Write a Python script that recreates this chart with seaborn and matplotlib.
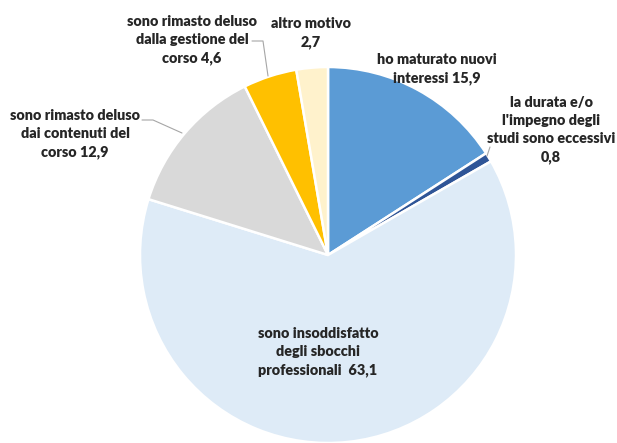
import matplotlib
matplotlib.use("Agg")
import matplotlib.pyplot as plt
import seaborn as sns

# Motivi di abbandono (%), in ordine orario a partire dalle ore 12
categories = [
    "ho maturato nuovi\ninteressi",
    "la durata e/o\nl'impegno degli\nstudi sono eccessivi",
    "sono insoddisfatto\ndegli sbocchi\nprofessionali",
    "sono rimasto deluso\ndai contenuti del\ncorso",
    "sono rimasto deluso\ndalla gestione del\ncorso",
    "altro motivo",
]
values = [15.9, 0.8, 63.1, 12.9, 4.6, 2.7]
colors = ["#5B9BD5", "#2F5597", "#DEEBF7", "#D9D9D9", "#FFC000", "#FFF2CC"]

# separatore tra testo e valore per ciascuna etichetta
separators = [" ", "\n", "  ", " ", " ", "\n"]

# centro delle etichette (pixel, y dall'alto) e tratti di richiamo
label_xy = [(437, 69), (551, 130), (318, 352), (75, 134), (192, 40), (311, 33)]
leaders = {
    1: [(490, 147), (487, 156)],
    3: [(142, 120), (153, 120), (182, 133)],
    4: [(252, 41), (263, 41), (268, 76)],
}

W, H = 617, 443
sns.set_theme(style="white")
plt.rcParams["font.family"] = ["Lato", "DejaVu Sans"]

fig = plt.figure(figsize=(W / 100, H / 100), dpi=100)
ax = fig.add_axes([0, 0, 1, 1])

center = (328, H - 255)
ax.pie(
    values,
    colors=colors,
    startangle=90,
    counterclock=False,
    center=center,
    radius=188,
    wedgeprops=dict(edgecolor="white", linewidth=1.8),
)
ax.set_xlim(0, W)
ax.set_ylim(0, H)
ax.set_aspect("equal")
ax.axis("off")

def fmt(v):
    return f"{v:.1f}".replace(".", ",")

for i, (name, val, sep) in enumerate(zip(categories, values, separators)):
    x, y = label_xy[i]
    ax.text(x, H - y, f"{name}{sep}{fmt(val)}", ha="center", va="center",
            fontsize=10.4, fontweight="heavy", color="#262626", linespacing=1.45)

for pts in leaders.values():
    xs = [p[0] for p in pts]
    ys = [H - p[1] for p in pts]
    ax.plot(xs, ys, color="#A6A6A6", linewidth=0.8)

fig.savefig("out.png", dpi=100, facecolor="white")
